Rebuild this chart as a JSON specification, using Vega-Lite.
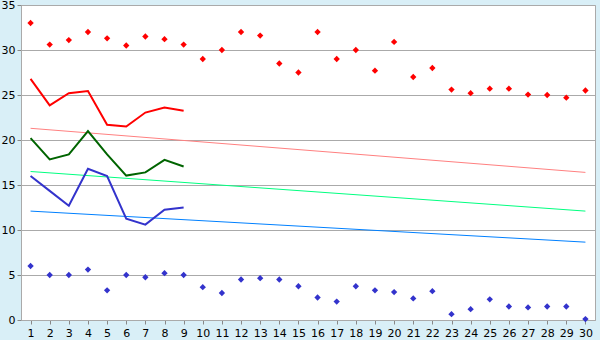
{
  "$schema": "https://vega.github.io/schema/vega-lite/v6.json",
  "autosize": {"type": "none"},
  "padding": {"left": 21, "top": 5, "right": 5, "bottom": 20},
  "width": 574,
  "height": 315,
  "background": "#d9eff7",
  "config": {
    "view": {"fill": "#ffffff", "stroke": "#aaaaaa", "strokeWidth": 1},
    "axis": {"labelFont": "DejaVu Sans", "labelFontSize": 11, "labelColor": "#000000", "domainColor": "#aaaaaa", "tickColor": "#888888", "tickSize": 4, "title": null, "labelOverlap": false, "labelFlush": false},
    "axisX": {"labelOverlap": false, "labelPadding": 3, "grid": false, "labelAngle": 0},
    "axisY": {"labelPadding": 2, "grid": true, "gridColor": "#aaaaaa", "gridOpacity": 1}
  },
  "datasets": {
    "daily": [
      {"day": 1, "max": 33.0, "min": 6.0, "hi": 26.8, "mid": 20.2, "lo": 16.0},
      {"day": 2, "max": 30.6, "min": 5.0, "hi": 23.85, "mid": 17.85, "lo": 14.35},
      {"day": 3, "max": 31.1, "min": 5.0, "hi": 25.2, "mid": 18.4, "lo": 12.7},
      {"day": 4, "max": 32.0, "min": 5.6, "hi": 25.45, "mid": 21.0, "lo": 16.8},
      {"day": 5, "max": 31.3, "min": 3.3, "hi": 21.7, "mid": 18.4, "lo": 16.0},
      {"day": 6, "max": 30.5, "min": 5.0, "hi": 21.5, "mid": 16.05, "lo": 11.25},
      {"day": 7, "max": 31.5, "min": 4.75, "hi": 23.05, "mid": 16.4, "lo": 10.6},
      {"day": 8, "max": 31.2, "min": 5.2, "hi": 23.6, "mid": 17.8, "lo": 12.25},
      {"day": 9, "max": 30.6, "min": 5.0, "hi": 23.25, "mid": 17.05, "lo": 12.5},
      {"day": 10, "max": 29.0, "min": 3.65, "hi": null, "mid": null, "lo": null},
      {"day": 11, "max": 30.0, "min": 3.0, "hi": null, "mid": null, "lo": null},
      {"day": 12, "max": 32.0, "min": 4.5, "hi": null, "mid": null, "lo": null},
      {"day": 13, "max": 31.6, "min": 4.65, "hi": null, "mid": null, "lo": null},
      {"day": 14, "max": 28.5, "min": 4.5, "hi": null, "mid": null, "lo": null},
      {"day": 15, "max": 27.5, "min": 3.75, "hi": null, "mid": null, "lo": null},
      {"day": 16, "max": 32.0, "min": 2.5, "hi": null, "mid": null, "lo": null},
      {"day": 17, "max": 29.0, "min": 2.05, "hi": null, "mid": null, "lo": null},
      {"day": 18, "max": 30.0, "min": 3.75, "hi": null, "mid": null, "lo": null},
      {"day": 19, "max": 27.7, "min": 3.3, "hi": null, "mid": null, "lo": null},
      {"day": 20, "max": 30.9, "min": 3.1, "hi": null, "mid": null, "lo": null},
      {"day": 21, "max": 27.0, "min": 2.4, "hi": null, "mid": null, "lo": null},
      {"day": 22, "max": 28.0, "min": 3.2, "hi": null, "mid": null, "lo": null},
      {"day": 23, "max": 25.6, "min": 0.65, "hi": null, "mid": null, "lo": null},
      {"day": 24, "max": 25.2, "min": 1.2, "hi": null, "mid": null, "lo": null},
      {"day": 25, "max": 25.7, "min": 2.3, "hi": null, "mid": null, "lo": null},
      {"day": 26, "max": 25.7, "min": 1.5, "hi": null, "mid": null, "lo": null},
      {"day": 27, "max": 25.05, "min": 1.4, "hi": null, "mid": null, "lo": null},
      {"day": 28, "max": 25.0, "min": 1.5, "hi": null, "mid": null, "lo": null},
      {"day": 29, "max": 24.7, "min": 1.5, "hi": null, "mid": null, "lo": null},
      {"day": 30, "max": 25.5, "min": 0.1, "hi": null, "mid": null, "lo": null}
    ],
    "trend": [
      {"day": 1, "tmax": 21.3, "tmid": 16.5, "tmin": 12.1},
      {"day": 30, "tmax": 16.4, "tmid": 12.1, "tmin": 8.65}
    ]
  },
  "layer": [
    {
      "data": {"name": "trend"},
      "mark": {"type": "line", "color": "#ff8080", "strokeWidth": 1},
      "encoding": {
        "x": {"field": "day", "type": "ordinal", "scale": {"type": "point", "padding": 0.5, "domain": [1,2,3,4,5,6,7,8,9,10,11,12,13,14,15,16,17,18,19,20,21,22,23,24,25,26,27,28,29,30]},
              "axis": {"labelOverlap": false, "labelAngle": 0}},
        "y": {"field": "tmax", "type": "quantitative", "scale": {"domain": [0, 35], "nice": false},
              "axis": {"values": [0,5,10,15,20,25,30,35]}}
      }
    },
    {
      "data": {"name": "trend"},
      "mark": {"type": "line", "color": "#00ff80", "strokeWidth": 1},
      "encoding": {"x": {"field": "day", "type": "ordinal"}, "y": {"field": "tmid", "type": "quantitative"}}
    },
    {
      "data": {"name": "trend"},
      "mark": {"type": "line", "color": "#0080ff", "strokeWidth": 1},
      "encoding": {"x": {"field": "day", "type": "ordinal"}, "y": {"field": "tmin", "type": "quantitative"}}
    },
    {
      "data": {"name": "daily"},
      "mark": {"type": "line", "color": "#ff0000", "strokeWidth": 2},
      "encoding": {"x": {"field": "day", "type": "ordinal"}, "y": {"field": "hi", "type": "quantitative"}}
    },
    {
      "data": {"name": "daily"},
      "mark": {"type": "line", "color": "#006400", "strokeWidth": 2},
      "encoding": {"x": {"field": "day", "type": "ordinal"}, "y": {"field": "mid", "type": "quantitative"}}
    },
    {
      "data": {"name": "daily"},
      "mark": {"type": "line", "color": "#3333cc", "strokeWidth": 2},
      "encoding": {"x": {"field": "day", "type": "ordinal"}, "y": {"field": "lo", "type": "quantitative"}}
    },
    {
      "data": {"name": "daily"},
      "mark": {"type": "point", "shape": "diamond", "filled": true, "color": "#ff0000", "size": 40, "opacity": 1},
      "encoding": {"x": {"field": "day", "type": "ordinal"}, "y": {"field": "max", "type": "quantitative"}}
    },
    {
      "data": {"name": "daily"},
      "mark": {"type": "point", "shape": "diamond", "filled": true, "color": "#3333cc", "size": 40, "opacity": 1},
      "encoding": {"x": {"field": "day", "type": "ordinal"}, "y": {"field": "min", "type": "quantitative"}}
    }
  ]
}
